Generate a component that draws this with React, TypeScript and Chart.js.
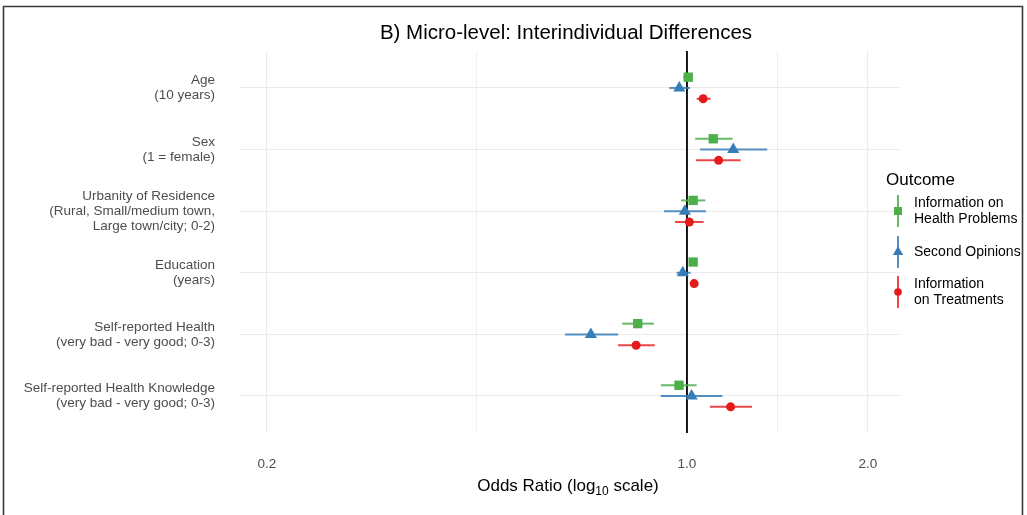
import React, { useEffect, useRef } from 'react';
import { Chart, registerables } from 'chart.js';

Chart.register(...registerables);

// ---------- data ----------
const categories: string[][] = [
  ['Age', '(10 years)'],
  ['Sex', '(1 = female)'],
  ['Urbanity of Residence', '(Rural, Small/medium town,', 'Large town/city; 0-2)'],
  ['Education', '(years)'],
  ['Self-reported Health', '(very bad - very good; 0-3)'],
  ['Self-reported Health Knowledge', '(very bad - very good; 0-3)'],
];

const seriesLabels: string[][] = [
  ['Information on', 'Health Problems'],
  ['Second Opinions'],
  ['Information', 'on Treatments'],
];

// Information on Health Problems
const hpOR = [1.005, 1.106, 1.024, 1.024, 0.828, 0.970];
const hpLo = [0.985, 1.032, 0.978, 1.015, 0.780, 0.905];
const hpHi = [1.020, 1.191, 1.073, 1.033, 0.881, 1.038];
// Second Opinions
const soOR = [0.971, 1.194, 0.992, 0.984, 0.692, 1.018];
const soLo = [0.934, 1.051, 0.916, 0.961, 0.627, 0.904];
const soHi = [1.012, 1.360, 1.075, 1.014, 0.768, 1.145];
// Information on Treatments
const trOR = [1.064, 1.129, 1.009, 1.028, 0.823, 1.182];
const trLo = [1.038, 1.035, 0.955, 1.020, 0.768, 1.092];
const trHi = [1.095, 1.228, 1.066, 1.036, 0.884, 1.283];

const xMajorTicks = [0.2, 1.0, 2.0];
const xTickLabels = ['0.2', '1.0', '2.0'];
const xMinorTicks = [0.4472, 1.4142];
const referenceOR = 1.0;

const titleText = 'B) Micro-level: Interindividual Differences';
const legendTitle = 'Outcome';

// ---------- styling ----------
const FONT = "'Liberation Sans', Arial, Helvetica, sans-serif";
const colors = ['#4DAF4A', '#377EB8', '#E41A1C'];
const ciColors = ['rgba(77,175,74,0.85)', 'rgba(55,126,184,0.85)', 'rgba(228,26,28,0.8)'];
const styles: any[] = ['rect', 'triangle', 'circle'];
const radii = [6.6, 7, 4.5];
const dodge = [-0.175, 0, 0.175];
const Y_MIN = 0.4;
const Y_MAX = 6.6;
const X_MIN = 0.1804;
const X_MAX = 2.262;

function drawMarker(ctx: CanvasRenderingContext2D, style: string, x: number, y: number, r: number, color: string) {
  ctx.save();
  ctx.fillStyle = color;
  ctx.beginPath();
  if (style === 'rect') {
    const s = Math.SQRT1_2 * r;
    ctx.rect(x - s, y - s, 2 * s, 2 * s);
  } else if (style === 'triangle') {
    let rad = 0;
    ctx.moveTo(x + Math.sin(rad) * r, y - Math.cos(rad) * r);
    rad += (2 * Math.PI) / 3;
    ctx.lineTo(x + Math.sin(rad) * r, y - Math.cos(rad) * r);
    rad += (2 * Math.PI) / 3;
    ctx.lineTo(x + Math.sin(rad) * r, y - Math.cos(rad) * r);
    ctx.closePath();
  } else {
    ctx.arc(x, y, r, 0, Math.PI * 2);
  }
  ctx.fill();
  ctx.restore();
}

const decorPlugin = {
  id: 'decor',
  afterDraw(chart: any) {
    const ctx: CanvasRenderingContext2D = chart.ctx;
    const area = chart.chartArea;
    ctx.save();
    // frame
    ctx.strokeStyle = '#3a3a3a';
    ctx.lineWidth = 1.6;
    ctx.beginPath();
    ctx.moveTo(3.5, 515);
    ctx.lineTo(3.5, 6.5);
    ctx.lineTo(1022.5, 6.5);
    ctx.lineTo(1022.5, 515);
    ctx.stroke();

    // title
    ctx.fillStyle = '#000';
    ctx.font = `20.5px ${FONT}`;
    ctx.textAlign = 'center';
    ctx.textBaseline = 'middle';
    ctx.fillText(titleText, (area.left + area.right) / 2 - 4, 33);

    // x-axis title with subscript
    const cx = (area.left + area.right) / 2 - 2;
    const yb = 491;
    const p1 = 'Odds Ratio (log';
    const p2 = '10';
    const p3 = ' scale)';
    ctx.textBaseline = 'alphabetic';
    ctx.textAlign = 'left';
    ctx.font = `17px ${FONT}`;
    const w1 = ctx.measureText(p1).width;
    const w3 = ctx.measureText(p3).width;
    ctx.font = `12px ${FONT}`;
    const w2 = ctx.measureText(p2).width;
    const x0 = cx - (w1 + w2 + w3) / 2;
    ctx.font = `17px ${FONT}`;
    ctx.fillText(p1, x0, yb);
    ctx.font = `12px ${FONT}`;
    ctx.fillText(p2, x0 + w1, yb + 4);
    ctx.font = `17px ${FONT}`;
    ctx.fillText(p3, x0 + w1 + w2, yb);

    // legend
    ctx.font = `17px ${FONT}`;
    ctx.textBaseline = 'middle';
    ctx.fillText(legendTitle, 886, 180);
    const centers = [211, 252, 292];
    const keyX = 898;
    seriesLabels.forEach((lines, k) => {
      const cy = centers[k];
      ctx.strokeStyle = ciColors[k];
      ctx.lineWidth = 2;
      ctx.beginPath();
      ctx.moveTo(keyX, cy - 16);
      ctx.lineTo(keyX, cy + 16);
      ctx.stroke();
      drawMarker(ctx, styles[k], keyX, cy, radii[k] * 0.85, colors[k]);
      ctx.fillStyle = '#000';
      ctx.font = `14px ${FONT}`;
      const lh = 15.5;
      lines.forEach((ln, j) => {
        ctx.fillText(ln, 914, cy + (j - (lines.length - 1) / 2) * lh);
      });
    });
    ctx.restore();
  },
};

export default function App() {
  const ref = useRef<HTMLCanvasElement | null>(null);

  useEffect(() => {
    if (!ref.current) return;
    const ors = [hpOR, soOR, trOR];
    const los = [hpLo, soLo, trLo];
    const his = [hpHi, soHi, trHi];
    const datasets: any[] = [];

    // reference line at OR = 1
    datasets.push({
      data: [
        { x: referenceOR, y: Y_MIN },
        { x: referenceOR, y: Y_MAX },
      ],
      showLine: true,
      borderColor: '#000000',
      borderWidth: 1.8,
      pointRadius: 0,
      order: 3,
    });

    // confidence intervals
    for (let k = 0; k < 3; k++) {
      categories.forEach((_, i) => {
        const y = i + 1 + dodge[k];
        datasets.push({
          data: [
            { x: los[k][i], y },
            { x: his[k][i], y },
          ],
          showLine: true,
          borderColor: ciColors[k],
          borderWidth: 2,
          pointRadius: 0,
          order: 2,
        });
      });
    }

    // point estimates
    for (let k = 0; k < 3; k++) {
      datasets.push({
        data: categories.map((_, i) => ({ x: ors[k][i], y: i + 1 + dodge[k] })),
        pointStyle: styles[k],
        pointRadius: radii[k],
        backgroundColor: colors[k],
        borderColor: colors[k],
        borderWidth: 0,
        order: 0,
      });
    }

    const chart = new Chart(ref.current, {
      type: 'scatter',
      data: { datasets },
      plugins: [decorPlugin],
      options: {
        animation: false,
        responsive: false,
        devicePixelRatio: 1,
        layout: { padding: { left: 0, top: 51, right: 127, bottom: 0 } },
        plugins: {
          legend: { display: false },
          tooltip: { enabled: false },
          title: { display: false },
        },
        scales: {
          x: {
            type: 'logarithmic',
            min: X_MIN,
            max: X_MAX,
            afterBuildTicks: (scale: any) => {
              const all = [...xMajorTicks, ...xMinorTicks].sort((a, b) => a - b);
              scale.ticks = all.map((v) => ({ value: v }));
            },
            afterFit: (scale: any) => {
              scale.height = 82;
            },
            border: { display: false },
            grid: {
              drawTicks: false,
              color: '#EBEBEB',
              lineWidth: (c: any) => (xMajorTicks.includes(c.tick?.value) ? 1.1 : 0.8),
            },
            ticks: {
              autoSkip: false,
              maxRotation: 0,
              padding: 23,
              color: '#4D4D4D',
              font: { family: FONT, size: 13.5 },
              callback: (value: any) => {
                const idx = xMajorTicks.findIndex((t) => Math.abs(t - Number(value)) < 1e-6);
                return idx >= 0 ? xTickLabels[idx] : '';
              },
            },
          },
          y: {
            type: 'linear',
            min: Y_MIN,
            max: Y_MAX,
            reverse: true,
            afterBuildTicks: (scale: any) => {
              scale.ticks = categories.map((_, i) => ({ value: i + 1 }));
            },
            afterFit: (scale: any) => {
              scale.width = 240;
            },
            border: { display: false },
            grid: { drawTicks: false, color: '#EBEBEB', lineWidth: 1.1 },
            ticks: {
              autoSkip: false,
              padding: 25,
              color: '#4D4D4D',
              font: { family: FONT, size: 13.5, lineHeight: 1.11 },
              callback: (value: any) => {
                const i = Math.round(Number(value)) - 1;
                return categories[i] || '';
              },
            },
          },
        },
      } as any,
    });
    return () => chart.destroy();
  }, []);

  return (
    <div style={{ position: 'absolute', left: 0, top: 0, width: 1027, height: 515, background: '#fff' }}>
      <canvas ref={ref} width={1027} height={515} style={{ display: 'block' }} />
    </div>
  );
}
